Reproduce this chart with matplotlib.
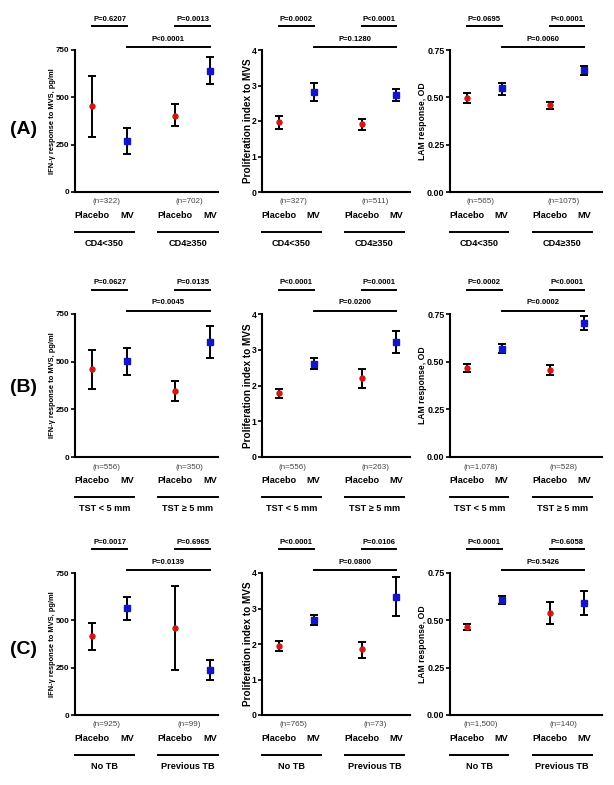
import matplotlib
matplotlib.use("Agg")
import matplotlib.pyplot as plt
import matplotlib.ticker as ticker

plt.rcParams["font.family"] = ["Liberation Sans", "DejaVu Sans"]

# x order in every panel: placebo, MV (group 1), placebo, MV (group 2)
arms = ["Placebo", "MV", "Placebo", "MV"]
row_labels = ["(A)", "(B)", "(C)"]
groups_a = ["CD4<350", "CD4\u2265350"]
groups_b = ["TST < 5 mm", "TST \u2265 5 mm"]
groups_c = ["No TB", "Previous TB"]

# IFN-gamma response to MVS, pg/ml
ifn_mean_a = [455, 270, 404, 639]
ifn_lo_a = [291, 200, 346, 569]
ifn_hi_a = [613, 337, 467, 711]
ifn_mean_b = [460, 501, 348, 602]
ifn_lo_b = [358, 429, 293, 518]
ifn_hi_b = [562, 571, 400, 685]
ifn_mean_c = [415, 565, 462, 238]
ifn_lo_c = [344, 503, 236, 185]
ifn_hi_c = [485, 623, 679, 291]

# proliferation index to MVS
pro_mean_a = [1.96, 2.81, 1.91, 2.73]
pro_lo_a = [1.77, 2.55, 1.75, 2.57]
pro_hi_a = [2.13, 3.06, 2.06, 2.89]
pro_mean_b = [1.78, 2.60, 2.21, 3.22]
pro_lo_b = [1.65, 2.45, 1.94, 2.91]
pro_hi_b = [1.90, 2.78, 2.45, 3.52]
pro_mean_c = [1.94, 2.69, 1.85, 3.33]
pro_lo_c = [1.80, 2.54, 1.61, 2.80]
pro_hi_c = [2.08, 2.83, 2.07, 3.88]

# LAM response, OD
lam_mean_a = [0.494, 0.547, 0.457, 0.642]
lam_lo_a = [0.471, 0.512, 0.439, 0.616]
lam_hi_a = [0.524, 0.577, 0.475, 0.665]
lam_mean_b = [0.465, 0.567, 0.457, 0.703]
lam_lo_b = [0.446, 0.545, 0.430, 0.664]
lam_hi_b = [0.487, 0.592, 0.485, 0.738]
lam_mean_c = [0.464, 0.609, 0.538, 0.591]
lam_lo_c = [0.450, 0.588, 0.480, 0.529]
lam_hi_c = [0.480, 0.630, 0.595, 0.656]

# p-values: [group 1 placebo vs MV, group 2 placebo vs MV, MV vs MV]
ifn_p_a = ["P=0.6207", "P=0.0013", "P<0.0001"]
ifn_p_b = ["P=0.0627", "P=0.0135", "P=0.0045"]
ifn_p_c = ["P=0.0017", "P=0.6965", "P=0.0139"]
pro_p_a = ["P=0.0002", "P<0.0001", "P=0.1280"]
pro_p_b = ["P<0.0001", "P=0.0001", "P=0.0200"]
pro_p_c = ["P<0.0001", "P=0.0106", "P=0.0800"]
lam_p_a = ["P=0.0695", "P<0.0001", "P=0.0060"]
lam_p_b = ["P=0.0002", "P<0.0001", "P=0.0002"]
lam_p_c = ["P<0.0001", "P=0.6058", "P=0.5426"]

# sample sizes per group
ifn_n_a = ["(n=322)", "(n=702)"]
ifn_n_b = ["(n=556)", "(n=350)"]
ifn_n_c = ["(n=925)", "(n=99)"]
pro_n_a = ["(n=327)", "(n=511)"]
pro_n_b = ["(n=556)", "(n=263)"]
pro_n_c = ["(n=765)", "(n=73)"]
lam_n_a = ["(n=565)", "(n=1075)"]
lam_n_b = ["(n=1,078)", "(n=528)"]
lam_n_c = ["(n=1,500)", "(n=140)"]

ifn_ticks = [0, 250, 500, 750]
pro_ticks = [0, 1, 2, 3, 4]
lam_ticks = [0.0, 0.25, 0.5, 0.75]

xpos = [1, 2, 3.4, 4.4]


def draw_panel(ax, mean, lo, hi, pvals, nlabels, groups, xmax):
    """Draw one panel with error bars and annotations."""
    tr = ax.get_xaxis_transform()
    for i in range(4):
        color = "#d01818" if i % 2 == 0 else "#1414c8"
        marker = "o" if i % 2 == 0 else "s"
        size = 3.6 if i % 2 == 0 else 4.2
        ax.errorbar([xpos[i]], [mean[i]],
                    yerr=[[mean[i] - lo[i]], [hi[i] - mean[i]]],
                    fmt=marker, color=color, ms=size, mec=color,
                    ecolor="black", elinewidth=1.4, capsize=2.6,
                    capthick=1.4, zorder=3)
    ax.set_xlim(0.5, xmax)
    ax.set_xticks([])
    ax.spines["top"].set_visible(False)
    ax.spines["right"].set_visible(False)
    ax.spines["left"].set_linewidth(1.5)
    ax.spines["bottom"].set_linewidth(1.5)
    ax.tick_params(axis="y", length=3, width=1.2, pad=1)
    for lab in ax.get_yticklabels():
        lab.set_fontweight("bold")

    # p-value brackets above the axes
    for k, (x0, x1) in enumerate([(xpos[0], xpos[1]), (xpos[2], xpos[3])]):
        ax.plot([x0, x1], [1.169, 1.169], color="black", lw=1.4,
                transform=tr, clip_on=False)
        ax.text((x0 + x1) / 2, 1.218, pvals[k], transform=tr, ha="center",
                va="center", fontsize=5.5, fontweight="bold")
    ax.plot([xpos[1], xpos[3]], [1.021, 1.021], color="black", lw=1.4,
            transform=tr, clip_on=False)
    ax.text((xpos[1] + xpos[3]) / 2, 1.077, pvals[2], transform=tr,
            ha="center", va="center", fontsize=5.5, fontweight="bold")

    # labels under the axes
    for k, xc in enumerate([1.4, 3.8]):
        ax.text(xc, -0.07, nlabels[k], transform=tr, ha="center",
                va="center", fontsize=5.8, color="#444444")
    for i in range(4):
        ax.text(xpos[i], -0.162, arms[i], transform=tr, ha="center",
                va="center", fontsize=6.6, fontweight="bold")
    for k, (x0, x1) in enumerate([(0.5, 2.2), (2.9, 4.63)]):
        ax.plot([x0, x1], [-0.282, -0.282], color="black", lw=1.4,
                transform=tr, clip_on=False)
        ax.text((x0 + x1) / 2, -0.36, groups[k], transform=tr, ha="center",
                va="center", fontsize=6.6, fontweight="bold")


def main():
    fig = plt.figure(figsize=(6.14, 7.85), dpi=100)
    lefts = [75, 262, 450]
    widths = [143, 148, 152]
    xmaxs = [4.63, 4.8, 4.92]
    bottoms = [192, 457, 715]
    tops = [50, 314, 573]
    groups = [groups_a, groups_b, groups_c]
    ifn = [(ifn_mean_a, ifn_lo_a, ifn_hi_a, ifn_p_a, ifn_n_a),
           (ifn_mean_b, ifn_lo_b, ifn_hi_b, ifn_p_b, ifn_n_b),
           (ifn_mean_c, ifn_lo_c, ifn_hi_c, ifn_p_c, ifn_n_c)]
    pro = [(pro_mean_a, pro_lo_a, pro_hi_a, pro_p_a, pro_n_a),
           (pro_mean_b, pro_lo_b, pro_hi_b, pro_p_b, pro_n_b),
           (pro_mean_c, pro_lo_c, pro_hi_c, pro_p_c, pro_n_c)]
    lam = [(lam_mean_a, lam_lo_a, lam_hi_a, lam_p_a, lam_n_a),
           (lam_mean_b, lam_lo_b, lam_hi_b, lam_p_b, lam_n_b),
           (lam_mean_c, lam_lo_c, lam_hi_c, lam_p_c, lam_n_c)]

    for r in range(3):
        h = bottoms[r] - tops[r]
        axes = []
        for c in range(3):
            ax = fig.add_axes([lefts[c] / 614, 1 - bottoms[r] / 785,
                               widths[c] / 614, h / 785])
            axes.append(ax)

        ax = axes[0]
        ax.set_ylim(0, 750)
        ax.set_yticks(ifn_ticks)
        ax.tick_params(axis="y", labelsize=5.8)
        ax.set_ylabel("IFN-\u03b3 response to MVS, pg/ml", fontsize=5.4,
                      fontweight="bold")
        ax.yaxis.set_label_coords(-0.13, 0.5)
        draw_panel(ax, *ifn[r], groups[r], xmaxs[0])

        ax = axes[1]
        ax.set_ylim(0, 4)
        ax.set_yticks(pro_ticks)
        ax.tick_params(axis="y", labelsize=6.2)
        ax.set_ylabel("Proliferation index to MVS", fontsize=7.2,
                      fontweight="bold")
        ax.yaxis.set_label_coords(-0.06, 0.5)
        draw_panel(ax, *pro[r], groups[r], xmaxs[1])

        ax = axes[2]
        ax.set_ylim(0, 0.75)
        ax.set_yticks(lam_ticks)
        ax.yaxis.set_major_formatter(ticker.FormatStrFormatter("%.2f"))
        ax.tick_params(axis="y", labelsize=6.4)
        ax.set_ylabel("LAM response, OD", fontsize=6.2, fontweight="bold")
        ax.yaxis.set_label_coords(-0.15, 0.5)
        draw_panel(ax, *lam[r], groups[r], xmaxs[2])

    for label, yc in zip(row_labels, [129, 388, 650]):
        fig.text(24 / 614, 1 - yc / 785, label, ha="center", va="center",
                 fontsize=14, fontweight="bold")

    fig.savefig("out.png", dpi=100)


if __name__ == "__main__":
    main()
